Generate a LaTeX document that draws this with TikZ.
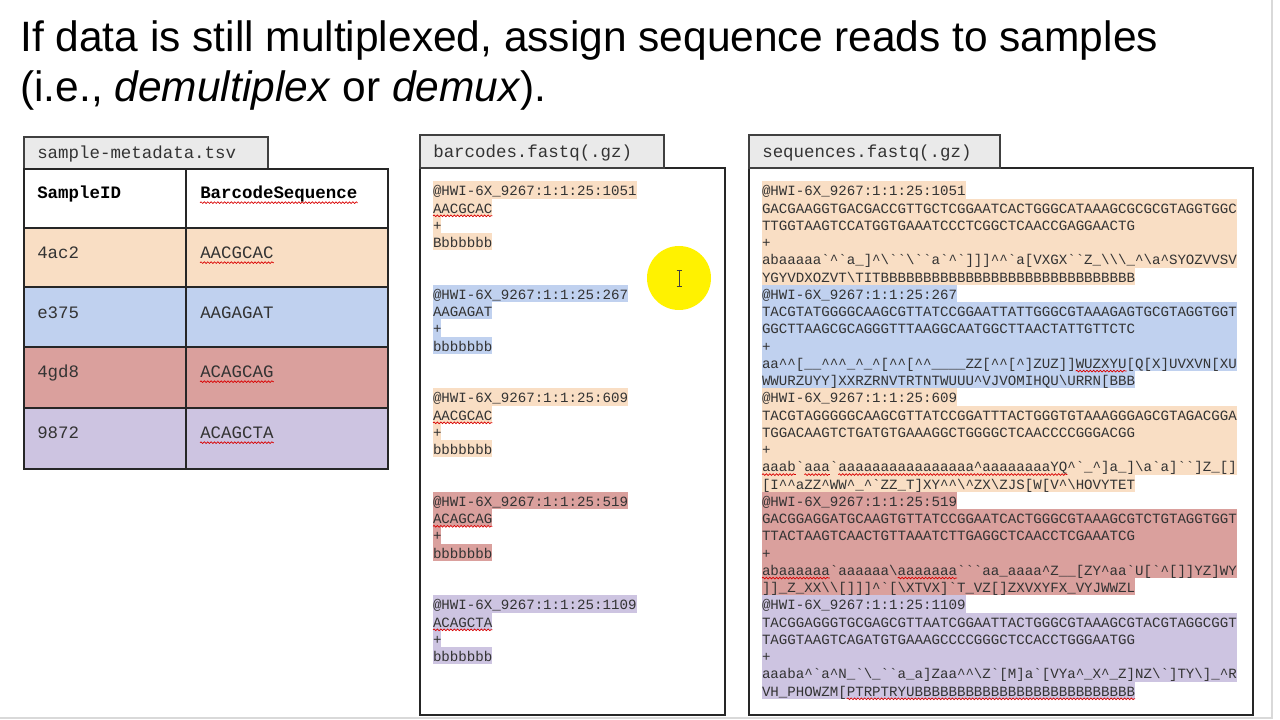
\documentclass[tikz,border=0pt]{standalone}
\usepackage{fontspec}
\setmainfont{Liberation Sans}
\newfontfamily\cour{Liberation Mono}
\usepackage{tikz}
\usetikzlibrary{decorations.pathmorphing}

\definecolor{peach}{HTML}{F9DEC4}
\definecolor{skyb}{HTML}{C0D1EF}
\definecolor{rose}{HTML}{DAA09D}
\definecolor{lilac}{HTML}{CDC4E1}
\definecolor{tabgray}{HTML}{EAEAEA}
\definecolor{ink}{HTML}{333333}
\definecolor{hilite}{HTML}{FFF200}

\newcommand{\bsl}{\textbackslash}
\newcommand{\crt}{\textasciicircum}

\tikzset{
  title/.style={anchor=base west, inner sep=0pt, font=\fontsize{30.2}{36}\selectfont},
  lab/.style={anchor=base west, inner sep=0pt, text=ink, font=\cour\fontsize{12.4}{15}\selectfont},
  labb/.style={lab, font=\cour\bfseries\fontsize{12.4}{15}\selectfont, text=black},
  fq/.style={anchor=west, inner sep=0pt, outer sep=0pt, text=ink, text height=10.2pt, text depth=2pt, font=\cour\fontsize{10.05}{12}\selectfont},
  fqwide/.style={fq, text width=338pt, align=left},
  tab/.style={draw=black!75, line width=1.1pt, fill=tabgray},
  panel/.style={draw=black!85, line width=1.1pt},
  grid/.style={draw=black!85, line width=1pt},
  spell/.style={draw=red!85!black, line width=0.5pt, decorate, decoration={snake, amplitude=0.6pt, segment length=2.4pt}}
}

\begin{document}
\begin{tikzpicture}[x=0.025cm, y=-0.025cm]
  \useasboundingbox (0,0) rectangle (1280,720);
  \fill[white] (0,0) rectangle (1280,720);
  \draw[black!15, line width=1pt] (1272,0) -- (1272,718) -- (0,718);

  \node[title] (title1) at (20,52) {If data is still multiplexed, assign sequence reads to samples};
  \node[title] (title2) at (20,102) {(i.e., \textit{demultiplex} or \textit{demux}).};

  \draw[tab] (24,137) rectangle (268,169);
  \node[lab] (mdtab) at (37,159) {sample-metadata.tsv};
  \foreach \y/\h/\col in {228/287/peach,287/347/skyb,347/408/rose,408/469/lilac}{ \fill[\col] (24,\y) rectangle (388,\h); }
  \draw[grid] (24,169) rectangle (388,469);
  \foreach \y in {228,287,347,408}{ \draw[grid] (24,\y) -- (388,\y); }
  \draw[grid] (186,169) -- (186,469);
  \node[labb] (hd-id) at (37,199) {SampleID};
  \node[labb] (hd-bc) at (200,199) {BarcodeSequence};
  \foreach \i/\y/\sid/\bc in {1/259/4ac2/AACGCAC,2/319/e375/AAGAGAT,3/378/4gd8/ACAGCAG,4/439/9872/ACAGCTA}{
    \node[lab] (id\i) at (37,\y) {\sid};
    \node[lab] (bc\i) at (200,\y) {\bc};
  }
  \foreach \n in {hd-bc,bc1,bc3,bc4}{ \draw[spell] ([yshift=-2.6pt]\n.base west) -- ([yshift=-2.6pt]\n.base east); }

  \draw[panel] (420,168) rectangle (725,715);
  \draw[tab] (420,135) rectangle (664,168);
  \node[lab] (bctab) at (433,158) {barcodes.fastq(.gz)};
  \foreach \k/\col/\id/\bc/\q in {0/peach/1051/AACGCAC/Bbbbbbb,1/skyb/267/AAGAGAT/bbbbbbb,2/peach/609/AACGCAC/bbbbbbb,3/rose/519/ACAGCAG/bbbbbbb,4/lilac/1109/ACAGCTA/bbbbbbb}{
    \node[fq, fill=\col] (b\k-h) at (433,190+103.5*\k) {@HWI-6X\_9267:1:1:25:\id};
    \node[fq, fill=\col] (b\k-s) at (433,207.25+103.5*\k) {\bc};
    \node[fq, fill=\col] (b\k-p) at (433,224.5+103.5*\k) {+};
    \node[fq, fill=\col] (b\k-q) at (433,241.75+103.5*\k) {\q};
  }
  \foreach \n in {b0-s,b2-s,b3-s,b4-s}{ \draw[spell] ([yshift=-2pt]\n.base west) -- ([yshift=-2pt]\n.base east); }

  \draw[panel] (749,168) rectangle (1253,715);
  \draw[tab] (749,135) rectangle (1000,168);
  \node[lab] (sqtab) at (762,158) {sequences.fastq(.gz)};
  \foreach \k/\col/\id/\sa/\sb/\qa/\qb in {
    0/peach/1051/{GACGAAGGTGACGACCGTTGCTCGGAATCACTGGGCATAAAGCGCGCGTAGGTGGC}/{TTGGTAAGTCCATGGTGAAATCCCTCGGCTCAACCGAGGAACTG}/{abaaaaa`\crt`a\_]\crt\bsl``\bsl``a`\crt`]]]\crt\crt`a[VXGX``Z\_\bsl\bsl\bsl\_\crt\bsl{}a\crt{}SYOZVVSV}/{YGYVDXOZVT\bsl{}TITBBBBBBBBBBBBBBBBBBBBBBBBBBBBBB},
    1/skyb/267/{TACGTATGGGGCAAGCGTTATCCGGAATTATTGGGCGTAAAGAGTGCGTAGGTGGT}/{GGCTTAAGCGCAGGGTTTAAGGCAATGGCTTAACTATTGTTCTC}/{aa\crt\crt[\_\_\crt\crt\crt\_\crt\_\crt[\crt\crt[\crt\crt\_\_\_\_ZZ[\crt\crt[\crt]ZUZ]]WUZXYU[Q[X]UVXVN[XU}/{WWURZUYY]XXRZRNVTRTNTWUUU\crt{}VJVOMIHQU\bsl{}URRN[BBB},
    2/peach/609/{TACGTAGGGGGCAAGCGTTATCCGGATTTACTGGGTGTAAAGGGAGCGTAGACGGA}/{TGGACAAGTCTGATGTGAAAGGCTGGGGCTCAACCCCGGGACGG}/{aaab`aaa`aaaaaaaaaaaaaaaa\crt{}aaaaaaaaYQ\crt`\_\crt]a\_]\bsl{}a`a]``]Z\_[]}/{[I\crt\crt{}aZZ\crt{}WW\crt\_\crt`ZZ\_T]XY\crt\crt\bsl\crt{}ZX\bsl{}ZJS[W[V\crt\bsl{}HOVYTET},
    3/rose/519/{GACGGAGGATGCAAGTGTTATCCGGAATCACTGGGCGTAAAGCGTCTGTAGGTGGT}/{TTACTAAGTCAACTGTTAAATCTTGAGGCTCAACCTCGAAATCG}/{abaaaaaa`aaaaaa\bsl{}aaaaaaa```aa\_aaaa\crt{}Z\_\_[ZY\crt{}aa`U[`\crt[]]YZ]WY}/{]]\_Z\_XX\bsl\bsl[]]]\crt`[\bsl{}XTVX]`T\_VZ[]ZXVXYFX\_VYJWWZL},
    4/lilac/1109/{TACGGAGGGTGCGAGCGTTAATCGGAATTACTGGGCGTAAAGCGTACGTAGGCGGT}/{TAGGTAAGTCAGATGTGAAAGCCCCGGGCTCCACCTGGGAATGG}/{aaaba\crt`a\crt{}N\_`\bsl\_``a\_a]Zaa\crt\crt\bsl{}Z`[M]a`[VYa\crt\_X\crt\_Z]NZ\bsl`]TY\bsl]\_\crt{}R}/{VH\_PHOWZM[PTRPTRYUBBBBBBBBBBBBBBBBBBBBBBBBBB}}{
    \node[fq, fill=\col] (s\k-h) at (762,190+103.5*\k) {@HWI-6X\_9267:1:1:25:\id};
    \node[fqwide, fill=\col] (s\k-a) at (762,207.25+103.5*\k) {\sa};
    \node[fqwide, fill=\col] (s\k-b) at (762,224.5+103.5*\k) {\sb};
    \node[fqwide, fill=\col] (s\k-p) at (762,241.75+103.5*\k) {+};
    \node[fqwide, fill=\col] (s\k-q) at (762,259+103.5*\k) {\qa};
    \node[fq, fill=\col] (s\k-r) at (762,276.25+103.5*\k) {\qb};
  }
  \foreach \n/\a/\b in {s1-q/37/43,s2-q/0/4,s2-q/5/8,s2-q/9/36,s3-q/0/8,s3-q/16/23,s4-r/10/44}{
    \draw[spell] ([xshift=\a*6.03pt, yshift=-2pt]\n.base west) -- ([xshift=\b*6.03pt, yshift=-2pt]\n.base west);
  }

  \fill[hilite] (679,278) circle (32);
  \draw[black!75, line width=0.6pt] (679,270) -- (679,286) (676.5,270) -- (681.5,270) (676.5,286) -- (681.5,286);
\end{tikzpicture}
\end{document}
